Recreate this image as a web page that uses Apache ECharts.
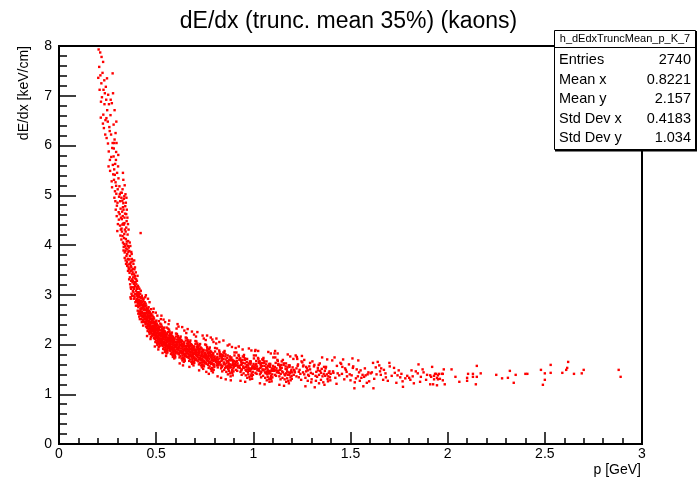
<!DOCTYPE html>
<html>
<head>
<meta charset="utf-8">
<script src="https://cdn.jsdelivr.net/npm/echarts@6/dist/echarts.min.js"></script>
<style>html,body{margin:0;padding:0;background:#fff}#chart{width:697px;height:486px}</style>
</head>
<body>
<div id="chart"></div>
<script>
// ---- data: [p (GeV), dE/dx (keV/cm)] ----
const steepBranch = [
[0.213,7.41],[0.204,7.93],[0.228,6.62],[0.219,7.78],[0.236,7.05],[0.209,7.12],[0.231,6.35],[0.224,7.46],[0.216,6.88],[0.239,6.51],[0.207,7.58],[0.233,7.31],[0.221,6.97],[0.227,7.68],[0.212,7.87],[0.238,6.22],[0.218,7.25],[0.226,6.44],[0.234,6.83],[0.202,7.36],[0.229,7.12],[0.215,6.56],
[0.243,6.92],[0.262,5.71],[0.251,6.48],[0.274,5.95],[0.247,7.35],[0.268,6.22],[0.256,5.88],[0.279,5.42],[0.245,6.15],[0.265,6.61],[0.253,7.02],[0.271,5.28],[0.259,6.37],[0.248,6.71],[0.276,6.05],[0.263,5.49],[0.241,7.18],[0.257,6.83],[0.269,5.77],[0.252,6.04],[0.277,5.61],[0.244,6.55],[0.266,6.92],[0.273,5.16],[0.255,5.58],[0.261,6.29],
[0.272,6.85],[0.281,6.42],[0.286,6.71],[0.278,7.05],[0.291,6.25],[0.284,6.05],[0.295,6.48],[0.276,7.45],
[0.284,5.52],[0.301,4.85],[0.293,5.71],[0.312,4.62],[0.288,5.08],[0.306,5.34],[0.297,4.58],[0.318,4.31],[0.282,5.94],[0.309,4.97],[0.291,5.26],[0.315,4.88],[0.286,6.12],[0.303,4.42],[0.295,5.03],[0.319,4.55],[0.289,5.63],[0.311,5.18],[0.298,4.79],[0.283,5.31],[0.307,4.66],[0.294,5.87],[0.316,4.19],[0.299,5.45],[0.285,4.95],[0.313,5.02],[0.292,4.71],[0.304,5.58],[0.317,4.73],[0.287,5.41],[0.302,5.12],[0.296,6.05],[0.314,4.39],[0.281,5.78],[0.308,4.51],[0.29,4.88],[0.305,5.81],[0.3,4.28],[0.318,5.05],[0.294,5.19],
[0.327,5.12],[0.334,4.93],[0.341,4.78],[0.346,4.62],[0.338,5.2],[0.331,5.31],[0.344,4.85],[0.349,4.71],[0.336,4.98],[0.352,4.55],[0.329,5.45],[0.342,5.02],[0.355,4.42],[0.347,4.95],[0.358,4.31],
[0.323,4.52],[0.341,3.98],[0.332,4.71],[0.354,3.72],[0.327,4.18],[0.346,4.35],[0.338,3.85],[0.357,3.61],[0.321,4.95],[0.349,4.07],[0.334,4.41],[0.352,3.91],[0.325,4.67],[0.343,3.69],[0.336,4.22],[0.359,3.95],[0.329,4.05],[0.347,3.78],[0.331,4.84],[0.355,3.48],[0.322,4.33],[0.344,4.12],[0.337,4.55],[0.351,3.82],[0.326,4.89],[0.348,4.48],[0.333,3.96],[0.356,3.71],[0.324,4.27],[0.342,3.88],[0.339,4.31],[0.358,3.55],[0.328,4.58],[0.345,3.62],[0.335,4.14],[0.353,4.21],[0.33,4.43],[0.35,3.66],[0.34,4.63],[0.357,3.86],[0.321,4.11],[0.347,4.02],[0.332,3.89],[0.354,3.98],[0.326,4.41],[0.343,4.27],[0.338,3.74],[0.36,3.52],[0.329,4.76],[0.351,3.58],[0.334,4.02],[0.356,4.08],[0.323,5.05],[0.345,3.93],[0.337,4.44],
[0.363,3.71],[0.381,3.28],[0.372,3.55],[0.394,3.02],[0.367,3.98],[0.386,3.41],[0.377,3.15],[0.398,3.21],[0.361,3.52],[0.389,2.95],[0.374,3.82],[0.392,3.33],[0.365,3.35],[0.383,3.62],[0.376,3.41],[0.397,2.88],[0.369,3.65],[0.387,3.12],[0.371,3.28],[0.395,3.45],[0.362,3.88],[0.384,2.98],[0.378,3.67],[0.391,3.18],[0.366,3.21],[0.388,3.51],[0.373,3.02],[0.396,3.08],[0.364,4.05],[0.382,3.35],[0.379,3.45],[0.399,2.91],[0.368,3.48],[0.385,3.22],[0.375,3.72],[0.393,2.85],[0.37,3.58],[0.39,3.38],[0.38,3.08],[0.397,3.31],[0.361,3.31],[0.387,3.69],[0.372,3.86],[0.394,3.25],[0.366,3.62],[0.383,3.05],[0.377,3.31],[0.398,3.01],[0.369,3.15],[0.389,3.25],[0.374,3.49],[0.391,3.55],[0.363,3.44],[0.385,2.92],[0.376,2.98],[0.396,2.78],[0.368,2.95],[0.381,3.52],[0.371,3.12],[0.392,3.01],[0.365,3.78],[0.386,3.15],[0.378,3.25],[0.399,3.15],[0.37,2.92]
];
const bandLow = [
[0.403,3.05],[0.421,2.71],[0.412,2.95],[0.434,2.58],[0.407,2.82],[0.426,2.98],[0.417,2.62],[0.438,2.81],[0.401,3.28],[0.429,2.55],[0.414,3.12],[0.432,2.75],[0.405,2.68],[0.423,2.88],[0.416,2.79],[0.437,2.45],[0.409,3.15],[0.427,2.66],[0.411,2.89],[0.435,2.92],[0.402,2.92],[0.424,2.51],[0.418,3.02],[0.431,2.63],[0.406,3.01],[0.428,2.79],[0.413,2.56],[0.436,2.69],[0.404,3.38],[0.422,2.93],[0.419,2.72],[0.439,2.52],[0.408,2.75],[0.425,2.62],[0.415,2.85],[0.433,2.38],[0.41,3.05],[0.43,2.85],[0.42,2.58],[0.437,2.76],[0.401,2.98],[0.427,2.95],[0.412,2.66],[0.434,2.88],[0.406,3.18],[0.423,2.65],[0.417,2.95],[0.438,2.61],[0.409,2.85],[0.429,2.72],[0.414,2.78],[0.431,2.49],[0.403,2.85],[0.425,2.81],[0.416,2.51],[0.436,2.55],[0.408,2.62],[0.421,3.08],[0.411,2.98],[0.432,2.92],[0.405,2.88],[0.426,2.45],[0.418,2.83],[0.439,2.71],[0.402,3.12],[0.424,2.74],[0.413,3.02],[0.435,2.47],[0.407,2.95],[0.428,2.58],[0.419,2.67],[0.433,2.79],[0.404,2.78],[0.422,2.84],[0.415,2.61],[0.42,4.24],
[0.443,2.62],[0.461,2.45],[0.452,2.71],[0.474,2.31],[0.447,2.52],[0.466,2.58],[0.457,2.38],[0.478,2.52],[0.441,2.85],[0.469,2.28],[0.454,2.66],[0.472,2.44],[0.445,2.41],[0.463,2.68],[0.456,2.55],[0.477,2.22],[0.449,2.78],[0.467,2.39],[0.451,2.49],[0.475,2.61],[0.442,2.58],[0.464,2.25],[0.458,2.72],[0.471,2.36],[0.446,2.69],[0.468,2.51],[0.453,2.33],[0.476,2.43],[0.444,2.95],[0.462,2.62],[0.459,2.48],[0.479,2.29],[0.448,2.46],[0.465,2.35],[0.455,2.59],[0.473,2.15],[0.45,2.73],[0.47,2.56],[0.46,2.31],[0.477,2.47],[0.441,2.63],[0.467,2.65],[0.452,2.42],[0.474,2.58],[0.446,2.82],[0.463,2.38],[0.457,2.64],[0.478,2.36],[0.449,2.55],[0.469,2.45],[0.454,2.51],[0.471,2.24],[0.443,2.51],[0.465,2.53],[0.456,2.27],[0.476,2.33],[0.448,2.36],[0.461,2.75],[0.451,2.64],[0.472,2.62],[0.445,2.58],[0.466,2.21],[0.458,2.57],[0.479,2.44],[0.442,2.77],[0.464,2.47],[0.453,2.69],[0.475,2.25],[0.447,2.63],[0.468,2.32],[0.459,2.41],[0.473,2.52],[0.444,2.45],[0.462,2.55],[0.455,2.36],[0.47,2.41],[0.45,2.46],[0.46,2.67],[0.478,2.18],[0.447,2.99],[0.466,2.85],[0.453,2.17],[0.474,2.71],[0.458,2.92],[0.471,2.11],
[0.483,2.35],[0.501,2.21],[0.492,2.44],[0.514,2.12],[0.487,2.28],[0.506,2.33],[0.497,2.15],[0.518,2.29],[0.481,2.58],[0.509,2.05],[0.494,2.39],[0.512,2.22],[0.485,2.18],[0.503,2.42],[0.496,2.31],[0.517,2.01],[0.489,2.52],[0.507,2.16],[0.491,2.25],[0.515,2.36],[0.482,2.32],[0.504,2.03],[0.498,2.46],[0.511,2.14],[0.486,2.43],[0.508,2.27],[0.493,2.11],[0.516,2.19],[0.484,2.65],[0.502,2.37],[0.499,2.24],[0.519,2.07],[0.488,2.22],[0.505,2.13],[0.495,2.34],[0.513,1.95],[0.49,2.46],[0.51,2.31],[0.5,2.08],[0.517,2.23],[0.481,2.38],[0.507,2.39],[0.492,2.19],[0.514,2.33],[0.486,2.55],[0.503,2.15],[0.497,2.38],[0.518,2.12],[0.489,2.31],[0.509,2.22],[0.494,2.27],[0.511,2.02],[0.483,2.27],[0.505,2.29],[0.496,2.05],[0.516,2.1],[0.488,2.13],[0.501,2.48],[0.491,2.38],[0.512,2.36],[0.485,2.34],[0.506,1.99],[0.498,2.32],[0.519,2.21],[0.482,2.49],[0.504,2.24],[0.493,2.42],[0.515,2.03],[0.487,2.37],[0.508,2.09],[0.499,2.18],[0.513,2.28],[0.484,2.21],[0.502,2.3],[0.495,2.14],[0.51,2.17],[0.49,2.23],[0.5,2.41],[0.518,1.97],[0.487,2.72],[0.506,2.58],[0.493,1.96],[0.514,2.47],[0.498,2.64],[0.511,1.9],
[0.523,2.18],[0.541,2.05],[0.532,2.29],[0.554,1.98],[0.527,2.12],[0.546,2.19],[0.537,2.01],[0.558,2.14],[0.521,2.42],[0.549,1.91],[0.534,2.24],[0.552,2.08],[0.525,2.03],[0.543,2.27],[0.536,2.16],[0.557,1.87],[0.529,2.36],[0.547,2.02],[0.531,2.11],[0.555,2.22],[0.522,2.17],[0.544,1.89],[0.538,2.31],[0.551,2.0],[0.526,2.28],[0.548,2.13],[0.533,1.97],[0.556,2.05],[0.524,2.51],[0.542,2.23],[0.539,2.1],[0.559,1.93],[0.528,2.07],[0.545,1.99],[0.535,2.2],[0.553,1.82],[0.53,2.32],[0.55,2.17],[0.54,1.94],[0.557,2.09],[0.521,2.23],[0.547,2.25],[0.532,2.05],[0.554,2.19],[0.526,2.4],[0.543,2.01],[0.537,2.24],[0.558,1.98],[0.529,2.17],[0.549,2.08],[0.534,2.13],[0.551,1.88],[0.523,2.12],[0.545,2.15],[0.536,1.91],[0.556,1.96],[0.528,1.99],[0.541,2.34],[0.531,2.24],[0.552,2.22],[0.525,2.2],[0.546,1.85],[0.538,2.18],[0.559,2.07],[0.522,2.35],[0.544,2.1],[0.533,2.28],[0.555,1.89],[0.527,2.23],[0.548,1.95],[0.539,2.04],[0.553,2.14],[0.524,2.07],[0.542,2.16],[0.535,2.0],[0.55,2.03],[0.53,2.09],[0.54,2.27],[0.558,1.84],[0.527,2.58],[0.546,2.45],[0.533,1.83],[0.554,2.34],[0.538,2.5],[0.551,1.77],
[0.563,2.08],[0.581,1.95],[0.572,2.19],[0.594,1.88],[0.567,2.02],[0.586,2.09],[0.577,1.91],[0.598,2.04],[0.561,2.32],[0.589,1.81],[0.574,2.14],[0.592,1.98],[0.565,1.93],[0.583,2.17],[0.576,2.06],[0.597,1.77],[0.569,2.26],[0.587,1.92],[0.571,2.01],[0.595,2.12],[0.562,2.07],[0.584,1.79],[0.578,2.21],[0.591,1.9],[0.566,2.18],[0.588,2.03],[0.573,1.87],[0.596,1.95],[0.564,2.41],[0.582,2.13],[0.579,2.0],[0.599,1.83],[0.568,1.97],[0.585,1.89],[0.575,2.1],[0.593,1.72],[0.57,2.22],[0.59,2.07],[0.58,1.84],[0.597,1.99],[0.561,2.13],[0.587,2.15],[0.572,1.95],[0.594,2.09],[0.566,2.3],[0.583,1.91],[0.577,2.14],[0.598,1.88],[0.569,2.07],[0.589,1.98],[0.574,2.03],[0.591,1.78],[0.563,2.02],[0.585,2.05],[0.576,1.81],[0.596,1.86],[0.568,1.89],[0.581,2.24],[0.571,2.14],[0.592,2.12],[0.565,2.1],[0.586,1.75],[0.578,2.08],[0.599,1.97],[0.562,2.25],[0.584,2.0],[0.573,2.18],[0.595,1.79],[0.567,2.13],[0.588,1.85],[0.579,1.94],[0.593,2.04],[0.564,1.97],[0.582,2.06],[0.575,1.9],[0.59,1.93],[0.57,1.99],[0.58,2.17],[0.598,1.74],[0.567,2.48]
];
const bandMid = [
[0.604,1.98],[0.627,1.87],[0.615,2.1],[0.643,1.81],[0.609,1.94],[0.633,2.01],[0.621,1.84],[0.648,1.96],[0.602,2.22],[0.637,1.74],[0.618,2.05],[0.641,1.9],[0.606,1.85],[0.629,2.09],[0.62,1.98],[0.646,1.7],[0.612,2.17],[0.635,1.85],[0.614,1.93],[0.644,2.04],[0.603,1.99],[0.631,1.72],[0.623,2.13],[0.639,1.83],[0.608,2.1],[0.636,1.95],[0.617,1.8],[0.645,1.88],[0.605,2.32],[0.628,2.05],[0.624,1.92],[0.649,1.76],[0.611,1.9],[0.632,1.82],[0.619,2.02],[0.642,1.65],[0.613,2.14],[0.638,1.99],[0.625,1.77],[0.647,1.91],[0.601,2.05],[0.634,2.07],[0.616,1.88],[0.643,2.01],[0.607,2.21],[0.63,1.84],[0.622,2.06],[0.648,1.81],[0.61,1.99],[0.637,1.9],[0.618,1.95],[0.64,1.71],[0.604,1.94],[0.633,1.97],[0.62,1.74],[0.646,1.79],[0.609,1.82],[0.626,2.16],[0.614,2.06],[0.641,2.04],[0.606,2.02],[0.635,1.68],[0.623,2.0],[0.649,1.89],[0.602,2.16],[0.631,1.92],[0.617,2.1],[0.644,1.72],[0.608,2.05],[0.636,1.78],[0.624,1.87],[0.642,1.96],[0.605,1.9],[0.628,1.98],[0.619,1.83],[0.639,1.86],[0.612,1.91],[0.625,2.09],[0.647,1.67],[0.61,2.41],[0.634,2.35],[0.621,1.62],[0.645,2.28],[0.615,2.36],[0.638,1.58],
[0.654,1.9],[0.677,1.8],[0.665,2.02],[0.693,1.74],[0.659,1.86],[0.683,1.93],[0.671,1.77],[0.698,1.88],[0.652,2.14],[0.687,1.67],[0.668,1.97],[0.691,1.83],[0.656,1.78],[0.679,2.01],[0.67,1.9],[0.696,1.63],[0.662,2.09],[0.685,1.78],[0.664,1.86],[0.694,1.96],[0.653,1.91],[0.681,1.65],[0.673,2.05],[0.689,1.76],[0.658,2.02],[0.686,1.87],[0.667,1.73],[0.695,1.81],[0.655,2.23],[0.678,1.97],[0.674,1.85],[0.699,1.69],[0.661,1.83],[0.682,1.75],[0.669,1.94],[0.692,1.58],[0.663,2.06],[0.688,1.91],[0.675,1.7],[0.697,1.84],[0.651,1.97],[0.684,1.99],[0.666,1.81],[0.693,1.93],[0.657,2.13],[0.68,1.77],[0.672,1.98],[0.698,1.74],[0.66,1.91],[0.687,1.83],[0.668,1.88],[0.69,1.64],[0.654,1.86],[0.683,1.89],[0.67,1.67],[0.696,1.72],[0.659,1.75],[0.676,2.08],[0.664,1.98],[0.691,1.96],[0.656,1.94],[0.685,1.61],[0.673,1.92],[0.699,1.82],[0.652,2.08],[0.681,1.84],[0.667,2.02],[0.694,1.65],[0.658,1.97],[0.686,1.71],[0.674,1.8],[0.692,1.89],[0.655,1.82],[0.678,1.9],[0.669,1.76],[0.689,1.79],[0.662,2.31],[0.684,2.26],[0.671,1.55],[0.695,2.2],
[0.704,1.83],[0.727,1.73],[0.715,1.95],[0.743,1.67],[0.709,1.79],[0.733,1.86],[0.721,1.7],[0.748,1.81],[0.702,2.07],[0.737,1.6],[0.718,1.9],[0.741,1.76],[0.706,1.71],[0.729,1.94],[0.72,1.83],[0.746,1.56],[0.712,2.02],[0.735,1.71],[0.714,1.79],[0.744,1.89],[0.703,1.84],[0.731,1.58],[0.723,1.98],[0.739,1.69],[0.708,1.95],[0.736,1.8],[0.717,1.66],[0.745,1.74],[0.705,2.16],[0.728,1.9],[0.724,1.78],[0.749,1.62],[0.711,1.76],[0.732,1.68],[0.719,1.87],[0.742,1.51],[0.713,1.99],[0.738,1.84],[0.725,1.63],[0.747,1.77],[0.701,1.9],[0.734,1.92],[0.716,1.74],[0.743,1.86],[0.707,2.06],[0.73,1.7],[0.722,1.91],[0.748,1.67],[0.71,1.84],[0.737,1.76],[0.718,1.81],[0.74,1.57],[0.704,1.79],[0.733,1.82],[0.72,1.6],[0.746,1.65],[0.709,1.68],[0.726,2.01],[0.714,1.91],[0.741,1.89],[0.706,1.87],[0.735,1.54],[0.723,1.85],[0.749,1.75],[0.702,2.01],[0.731,1.77],[0.717,1.95],[0.744,1.58],[0.708,1.9],[0.736,1.64],[0.724,1.73],[0.712,2.25],[0.739,2.18],[0.721,1.48],[0.745,2.12],
[0.754,1.76],[0.777,1.66],[0.765,1.88],[0.793,1.6],[0.759,1.72],[0.783,1.79],[0.771,1.63],[0.798,1.74],[0.752,2.0],[0.787,1.53],[0.768,1.83],[0.791,1.69],[0.756,1.64],[0.779,1.87],[0.77,1.76],[0.796,1.49],[0.762,1.95],[0.785,1.64],[0.764,1.72],[0.794,1.82],[0.753,1.77],[0.781,1.51],[0.773,1.91],[0.789,1.62],[0.758,1.88],[0.786,1.73],[0.767,1.59],[0.795,1.67],[0.755,2.09],[0.778,1.83],[0.774,1.71],[0.799,1.55],[0.761,1.69],[0.782,1.61],[0.769,1.8],[0.792,1.44],[0.763,1.92],[0.788,1.77],[0.775,1.56],[0.797,1.7],[0.751,1.83],[0.784,1.85],[0.766,1.67],[0.793,1.79],[0.757,1.99],[0.78,1.63],[0.772,1.84],[0.798,1.6],[0.76,1.77],[0.787,1.69],[0.768,1.74],[0.79,1.5],[0.754,1.72],[0.783,1.75],[0.77,1.53],[0.796,1.58],[0.759,1.61],[0.776,1.94],[0.764,1.84],[0.791,1.82],[0.756,1.8],[0.785,1.47],[0.773,1.78],[0.799,1.68],[0.762,2.18],[0.789,2.1],[0.771,1.41],[0.795,2.05],[0.758,1.45],[0.781,2.14]
];
const bandHigh = [
[0.806,1.7],[0.853,1.6],[0.829,1.81],[0.885,1.54],[0.817,1.66],[0.866,1.73],[0.841,1.57],[0.896,1.65],[0.803,1.93],[0.874,1.47],[0.836,1.76],[0.881,1.6],[0.811,1.58],[0.857,1.8],[0.84,1.69],[0.892,1.43],[0.824,1.88],[0.869,1.57],[0.828,1.65],[0.887,1.74],[0.805,1.71],[0.861,1.45],[0.846,1.84],[0.878,1.54],[0.815,1.81],[0.872,1.65],[0.834,1.52],[0.889,1.58],[0.809,2.02],[0.856,1.76],[0.848,1.64],[0.898,1.46],[0.821,1.62],[0.864,1.54],[0.838,1.73],[0.883,1.36],[0.826,1.85],[0.876,1.69],[0.85,1.49],[0.894,1.61],[0.801,1.76],[0.868,1.78],[0.831,1.6],[0.886,1.71],[0.813,1.92],[0.86,1.56],[0.844,1.77],[0.897,1.52],[0.819,1.7],[0.874,1.61],[0.836,1.67],[0.88,1.42],[0.807,1.65],[0.866,1.67],[0.84,1.46],[0.891,1.49],[0.817,1.54],[0.852,1.87],[0.828,1.77],[0.882,1.73],[0.811,1.73],[0.869,1.4],[0.846,1.71],[0.898,1.59],[0.803,1.86],[0.862,1.62],[0.833,1.8],[0.888,1.45],[0.815,1.75],[0.872,1.52],[0.848,1.61],[0.885,1.68],[0.808,1.68],[0.857,1.7],[0.838,1.55],[0.878,1.57],[0.823,1.63],[0.851,1.83],[0.894,1.38],[0.819,1.59],[0.863,1.66],[0.842,1.79],[0.871,1.51],[0.832,1.58],[0.893,1.69],[0.813,1.62],[0.855,1.53],[0.879,1.76],[0.826,1.72],[0.899,1.55],[0.825,2.05],[0.858,1.3],[0.877,2.0],[0.834,1.33],[0.89,1.95],[0.816,1.36],[0.846,2.08],[0.868,1.98],[0.81,2.12],[0.884,1.28],
[0.906,1.6],[0.953,1.53],[0.929,1.72],[0.985,1.47],[0.917,1.58],[0.966,1.65],[0.941,1.5],[0.996,1.57],[0.903,1.84],[0.974,1.4],[0.936,1.68],[0.981,1.52],[0.911,1.49],[0.957,1.72],[0.94,1.61],[0.992,1.36],[0.924,1.79],[0.969,1.5],[0.928,1.57],[0.987,1.66],[0.905,1.62],[0.961,1.38],[0.946,1.76],[0.978,1.47],[0.915,1.73],[0.972,1.58],[0.934,1.45],[0.989,1.51],[0.909,1.93],[0.956,1.69],[0.948,1.56],[0.998,1.39],[0.921,1.54],[0.964,1.47],[0.938,1.65],[0.983,1.3],[0.926,1.77],[0.976,1.62],[0.95,1.42],[0.994,1.54],[0.901,1.67],[0.968,1.71],[0.931,1.53],[0.986,1.63],[0.913,1.84],[0.96,1.49],[0.944,1.69],[0.997,1.45],[0.919,1.62],[0.974,1.54],[0.936,1.59],[0.98,1.35],[0.907,1.57],[0.966,1.59],[0.94,1.39],[0.991,1.42],[0.917,1.47],[0.952,1.79],[0.928,1.69],[0.982,1.66],[0.911,1.65],[0.969,1.33],[0.946,1.63],[0.998,1.52],[0.903,1.78],[0.962,1.55],[0.933,1.72],[0.988,1.38],[0.915,1.67],[0.972,1.45],[0.948,1.54],[0.985,1.6],[0.908,1.6],[0.957,1.62],[0.938,1.48],[0.978,1.5],[0.923,1.56],[0.951,1.75],[0.994,1.31],[0.925,1.96],[0.958,1.25],[0.977,1.92],[0.934,1.27],[0.99,1.88],[0.945,1.9]
];
const plateau = [
[1.006,1.53],[1.053,1.48],[1.029,1.66],[1.085,1.42],[1.017,1.52],[1.066,1.6],[1.041,1.45],[1.096,1.52],[1.003,1.78],[1.074,1.35],[1.036,1.62],[1.081,1.47],[1.011,1.43],[1.057,1.66],[1.04,1.55],[1.092,1.31],[1.024,1.73],[1.069,1.45],[1.028,1.51],[1.087,1.61],[1.005,1.56],[1.061,1.33],[1.046,1.7],[1.078,1.42],[1.015,1.67],[1.072,1.53],[1.034,1.4],[1.089,1.46],[1.009,1.87],[1.056,1.63],[1.048,1.5],[1.098,1.34],[1.021,1.48],[1.064,1.42],[1.038,1.59],[1.083,1.25],[1.026,1.71],[1.076,1.57],[1.05,1.37],[1.094,1.49],[1.001,1.61],[1.068,1.66],[1.031,1.47],[1.086,1.58],[1.013,1.78],[1.06,1.44],[1.044,1.63],[1.097,1.4],[1.019,1.56],[1.074,1.49],[1.036,1.53],[1.08,1.3],[1.007,1.51],[1.066,1.54],[1.04,1.34],[1.091,1.37],[1.017,1.41],[1.052,1.73],[1.028,1.63],[1.082,1.61],[1.011,1.59],[1.069,1.28],[1.046,1.57],[1.098,1.47],[1.003,1.72],[1.062,1.5],[1.033,1.66],[1.088,1.33],[1.015,1.61],[1.072,1.4],[1.048,1.49],[1.085,1.55],[1.008,1.54],[1.057,1.57],[1.038,1.43],[1.078,1.45],[1.023,1.5],[1.051,1.69],[1.094,1.26],[1.025,1.87],[1.058,1.2],[1.077,1.85],[1.034,1.22],[1.09,1.82],[1.011,1.89],
[1.106,1.49],[1.153,1.44],[1.129,1.61],[1.185,1.39],[1.117,1.48],[1.166,1.56],[1.141,1.41],[1.196,1.49],[1.103,1.74],[1.174,1.32],[1.136,1.58],[1.181,1.44],[1.111,1.39],[1.157,1.62],[1.14,1.51],[1.192,1.28],[1.124,1.69],[1.169,1.42],[1.128,1.47],[1.187,1.58],[1.105,1.52],[1.161,1.3],[1.146,1.66],[1.178,1.39],[1.115,1.63],[1.172,1.5],[1.134,1.36],[1.189,1.43],[1.109,1.82],[1.156,1.59],[1.148,1.46],[1.198,1.31],[1.121,1.44],[1.164,1.38],[1.138,1.55],[1.183,1.22],[1.126,1.67],[1.176,1.54],[1.15,1.33],[1.194,1.46],[1.101,1.57],[1.168,1.62],[1.131,1.43],[1.186,1.55],[1.113,1.74],[1.16,1.4],[1.144,1.59],[1.197,1.37],[1.119,1.52],[1.174,1.46],[1.136,1.49],[1.18,1.27],[1.107,1.47],[1.166,1.51],[1.14,1.3],[1.191,1.34],[1.117,1.37],[1.152,1.69],[1.128,1.59],[1.182,1.58],[1.111,1.55],[1.169,1.25],[1.146,1.53],[1.199,1.44],[1.125,1.82],[1.158,1.17],[1.177,1.8],[1.134,1.19],[1.19,1.76],[1.112,1.87],
[1.212,1.46],[1.306,1.41],[1.258,1.58],[1.37,1.37],[1.234,1.45],[1.332,1.53],[1.282,1.39],[1.392,1.46],[1.206,1.71],[1.348,1.29],[1.272,1.55],[1.362,1.41],[1.222,1.36],[1.314,1.59],[1.28,1.48],[1.384,1.26],[1.248,1.66],[1.338,1.39],[1.256,1.44],[1.374,1.55],[1.21,1.49],[1.322,1.27],[1.292,1.63],[1.356,1.36],[1.23,1.6],[1.344,1.47],[1.268,1.33],[1.378,1.4],[1.218,1.78],[1.312,1.56],[1.296,1.43],[1.396,1.28],[1.242,1.41],[1.328,1.35],[1.276,1.52],[1.366,1.19],[1.252,1.64],[1.352,1.51],[1.3,1.3],[1.388,1.43],[1.202,1.54],[1.336,1.59],[1.262,1.4],[1.372,1.52],[1.226,1.71],[1.32,1.37],[1.288,1.56],[1.394,1.34],[1.238,1.49],[1.348,1.43],[1.272,1.46],[1.36,1.24],[1.214,1.44],[1.332,1.48],[1.28,1.27],[1.382,1.31],[1.234,1.34],[1.304,1.66],[1.256,1.56],[1.364,1.55],[1.222,1.52],[1.338,1.22],[1.292,1.5],[1.398,1.41],[1.25,1.77],[1.316,1.14],[1.354,1.74],[1.268,1.16],[1.38,1.7],[1.224,1.75],[1.246,1.29],[1.324,1.45],[1.286,1.37],[1.342,1.62],[1.208,1.39],[1.368,1.47],[1.262,1.69],[1.298,1.24],[1.386,1.36],[1.228,1.57],
[1.412,1.43],[1.506,1.38],[1.458,1.55],[1.57,1.35],[1.434,1.42],[1.532,1.5],[1.482,1.36],[1.592,1.44],[1.406,1.68],[1.548,1.27],[1.472,1.52],[1.562,1.39],[1.422,1.33],[1.514,1.56],[1.48,1.45],[1.584,1.23],[1.448,1.63],[1.538,1.36],[1.456,1.41],[1.574,1.52],[1.41,1.46],[1.522,1.24],[1.492,1.6],[1.556,1.33],[1.43,1.57],[1.544,1.44],[1.468,1.3],[1.578,1.38],[1.418,1.74],[1.512,1.53],[1.496,1.4],[1.596,1.26],[1.442,1.38],[1.528,1.32],[1.476,1.49],[1.566,1.16],[1.452,1.61],[1.552,1.48],[1.5,1.28],[1.588,1.4],[1.462,1.7],[1.52,1.12],[1.54,1.68],[1.51,1.72],[1.428,1.21]
];
const tail = [
[1.604,1.42],[1.712,1.37],[1.658,1.52],[1.802,1.33],[1.634,1.4],[1.748,1.48],[1.682,1.34],[1.846,1.42],[1.616,1.63],[1.768,1.26],[1.672,1.49],[1.792,1.37],[1.622,1.31],[1.724,1.53],[1.68,1.42],[1.826,1.22],[1.648,1.58],[1.756,1.34],[1.656,1.39],[1.814,1.48],[1.61,1.44],[1.736,1.23],[1.702,1.56],[1.782,1.32],[1.63,1.54],[1.762,1.41],[1.668,1.29],[1.82,1.36],[1.618,1.12],[1.64,1.65],[1.77,1.15],[1.7,1.63],[1.85,1.6],[1.862,1.35],[1.876,1.44],[1.889,1.29],[1.871,1.5],[1.894,1.39],[1.728,1.43],[1.692,1.27],[1.742,1.38],[1.836,1.46],[1.808,1.29],[1.858,1.25],[1.652,1.46],
[1.92,1.55],[1.91,1.38],[1.915,1.35],[1.93,1.37],[1.935,1.41],[1.94,1.41],[1.945,1.33],[1.95,1.38],[1.955,1.41],[1.96,1.31],[1.97,1.41],[1.975,1.41],[1.98,1.5],[2.02,1.5],[1.91,1.2],[1.925,1.2],[1.945,1.18],[1.985,1.2],[1.93,1.3],[1.95,1.3],[1.975,1.28],[2.04,1.35],[2.06,1.25],[2.1,1.33],[2.1,1.27],[2.105,1.41],[2.13,1.41],[2.13,1.35],[2.15,1.57],[2.15,1.35],[2.145,1.2],[2.17,1.42],[2.25,1.39],[2.28,1.32],[2.31,1.33],[2.32,1.47],[2.34,1.23],[2.35,1.39],[2.4,1.41],[2.41,1.41],[2.48,1.49],[2.5,1.42],[2.5,1.29],[2.49,1.19],[2.53,1.59],[2.53,1.43],[2.59,1.43],[2.61,1.49],[2.615,1.53],[2.62,1.65],[2.65,1.41],[2.69,1.42],[2.7,1.49],[2.88,1.49],[2.89,1.35]
];
const xTicks = [0, 0.5, 1, 1.5, 2, 2.5, 3];
const yTicks = [0, 1, 2, 3, 4, 5, 6, 7, 8];
const statLabels = ['Entries', 'Mean x', 'Mean y', 'Std Dev x', 'Std Dev y'];
const statValues = ['2740', '0.8221', '2.157', '0.4183', '1.034'];
const histName = 'h_dEdxTruncMean_p_K_7';

const allPoints = steepBranch.concat(bandLow, bandMid, bandHigh, plateau, tail);
const FONT = '"Liberation Sans", Arial, Helvetica, sans-serif';

const chart = echarts.init(document.getElementById('chart'), null, {renderer: 'canvas'});

const statGraphics = [
  {type: 'rect', shape: {x: 554.5, y: 30.5, width: 141, height: 119}, style: {fill: '#fff', stroke: '#000', lineWidth: 1}, z: 100},
  {type: 'line', shape: {x1: 555, y1: 150.5, x2: 697, y2: 150.5}, style: {stroke: '#000', lineWidth: 2}, z: 100},
  {type: 'line', shape: {x1: 696, y1: 31, x2: 696, y2: 151}, style: {stroke: '#000', lineWidth: 2}, z: 100},
  {type: 'line', shape: {x1: 554.5, y1: 47.5, x2: 695.5, y2: 47.5}, style: {stroke: '#000', lineWidth: 1}, z: 101},
  {type: 'text', x: 625, y: 39, style: {text: histName, font: '11px ' + FONT, fill: '#000', textAlign: 'center', textVerticalAlign: 'middle'}, z: 102}
];
statLabels.forEach((lab, i) => {
  statGraphics.push({type: 'text', x: 559, y: 60 + i * 19.5, style: {text: lab, font: '14.5px ' + FONT, fill: '#000', textAlign: 'left', textVerticalAlign: 'middle'}, z: 102});
  statGraphics.push({type: 'text', x: 691, y: 60 + i * 19.5, style: {text: statValues[i], font: '14.5px ' + FONT, fill: '#000', textAlign: 'right', textVerticalAlign: 'middle'}, z: 102});
});
statGraphics.push({type: 'text', x: 641, y: 470, style: {text: 'p [GeV]', font: '14px ' + FONT, fill: '#000', textAlign: 'right', textVerticalAlign: 'middle'}, z: 50});
statGraphics.push({type: 'text', x: 24, y: 46, rotation: Math.PI / 2, style: {text: 'dE/dx [keV/cm]', font: '14px ' + FONT, fill: '#000', textAlign: 'right', textVerticalAlign: 'middle'}, z: 50});

chart.setOption({
  animation: false,
  backgroundColor: '#fff',
  title: {
    text: 'dE/dx (trunc. mean 35%) (kaons)',
    left: 'center', top: 5,
    textStyle: {fontFamily: FONT, fontSize: 23, fontWeight: 'normal', color: '#000'}
  },
  grid: {left: 59, right: 55, top: 46, bottom: 42, show: true, borderColor: '#000', borderWidth: 2, backgroundColor: '#fff'},
  xAxis: {
    type: 'value', min: xTicks[0], max: xTicks[xTicks.length - 1], interval: 0.5,
    axisLine: {show: true, onZero: false, lineStyle: {color: '#000', width: 2}},
    axisTick: {show: true, inside: true, length: 12, lineStyle: {color: '#000', width: 1.5}},
    minorTick: {show: true, splitNumber: 5, length: 6, lineStyle: {color: '#000', width: 1.5}},
    axisLabel: {color: '#000', fontFamily: FONT, fontSize: 14, margin: 3,
      formatter: v => xTicks.includes(v) ? String(v) : ''},
    splitLine: {show: false}
  },
  yAxis: {
    type: 'value', min: yTicks[0], max: yTicks[yTicks.length - 1], interval: 1,
    axisLine: {show: true, onZero: false, lineStyle: {color: '#000', width: 2}},
    axisTick: {show: true, inside: true, length: 17, lineStyle: {color: '#000', width: 1.5}},
    minorTick: {show: true, splitNumber: 5, length: 8, lineStyle: {color: '#000', width: 1.5}},
    axisLabel: {color: '#000', fontFamily: FONT, fontSize: 14, margin: 7,
      formatter: v => yTicks.includes(v) ? String(v) : ''},
    splitLine: {show: false}
  },
  graphic: statGraphics,
  series: [{
    type: 'scatter',
    name: histName,
    data: allPoints,
    symbol: 'rect',
    symbolSize: 2.4,
    itemStyle: {color: '#ff0000', opacity: 1},
    silent: true
  }]
});
</script>
</body>
</html>
